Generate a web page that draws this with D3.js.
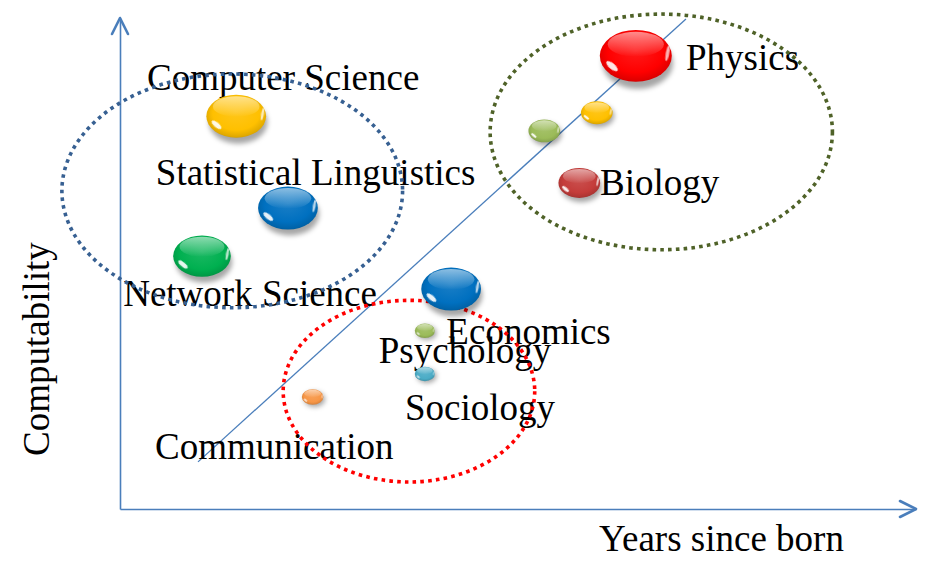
<!DOCTYPE html>
<html>
<head>
<meta charset="utf-8">
<script src="https://cdn.jsdelivr.net/npm/d3@7"></script>
<style>
  html, body { margin: 0; padding: 0; background: #ffffff; }
  svg { display: block; }
</style>
</head>
<body>
<svg id="chart" width="935" height="569"></svg>
<script>
// ---------------- data ----------------
const fields      = ["Physics", "Computer Science", "Statistical Linguistics", "Network Science", "Economics", "Psychology", "Sociology", "Communication", "Physics-2", "Physics-3", "Biology"];
const yearsSince  = [64.8, 14.6, 21.1, 10.3, 41.6, 38.3, 38.3, 24.2, 59.9, 53.3, 57.7];
const computab    = [92.3, 80.0, 61.3, 51.5, 44.8, 36.3, 27.5, 22.8, 80.7, 77.0, 66.4];
const bubbleSize  = [10, 8.3, 8.3, 8, 8.3, 2.8, 2.8, 3, 4.4, 4.4, 5.8];
const bubbleColor = ["#ff0000", "#ffc000", "#0070c0", "#00b050", "#0070c0", "#9bbb59", "#4bacc6", "#f79646", "#ffc000", "#9bbb59", "#c43c3a"];

// label text and anchor point (data units)
const labelText = ["Physics", "Computer Science", "Statistical Linguistics", "Network Science", "Economics", "Psychology", "Sociology", "Communication", "Biology"];
const labelX    = [71.1, 3.4, 4.5, 0.4, 41.0, 32.5, 35.8, 4.4, 60.3];
const labelY    = [89.4, 85.3, 66.0, 41.3, 33.6, 29.7, 18.1, 10.2, 64.0];

// trend line endpoints (data units)
const trendX = [9.8, 71.1];
const trendY = [9.6, 99.8];

// cluster ellipses (data units)
const clusterCX = [14.1, 68.0, 36.3];
const clusterCY = [64.8, 76.8, 24.0];
const clusterRX = [21.4, 21.5, 15.8];
const clusterRY = [23.8, 24.0, 18.5];
const clusterColor = ["#376092", "#4f6228", "#ff0000"];

const xTitle = "Years since born";
const yTitle = "Computability";

// ---------------- chart ----------------
const svg = d3.select("#chart");
const x = d3.scaleLinear().domain([0, 100]).range([120, 916]);
const y = d3.scaleLinear().domain([0, 100]).range([509, 18]);
const r = d3.scaleLinear().domain([0, 10]).range([0, 36]);
const axisColor = "#4a7ebb";
const font = "'Liberation Serif', 'Times New Roman', serif";
const fontSize = 37;

const defs = svg.append("defs");
const blur = defs.append("filter").attr("id", "shadowBlur")
  .attr("x", "-50%").attr("y", "-50%").attr("width", "200%").attr("height", "200%");
blur.append("feGaussianBlur").attr("stdDeviation", 2.5);
const glintBlur = defs.append("filter").attr("id", "glintBlur")
  .attr("x", "-50%").attr("y", "-50%").attr("width", "200%").attr("height", "200%");
glintBlur.append("feGaussianBlur").attr("stdDeviation", 0.6);

// top highlight gradient
const hl = defs.append("linearGradient").attr("id", "topHL")
  .attr("x1", 0).attr("y1", 0).attr("x2", 0).attr("y2", 1);
hl.append("stop").attr("offset", "0%").attr("stop-color", "#fff").attr("stop-opacity", 0.55);
hl.append("stop").attr("offset", "100%").attr("stop-color", "#fff").attr("stop-opacity", 0);

// axes
const gx = svg.append("g").attr("transform", `translate(0,${y(0)})`)
  .call(d3.axisBottom(x).tickValues([]).tickSizeOuter(0));
const gy = svg.append("g").attr("transform", `translate(${x(0)},0)`)
  .call(d3.axisLeft(y).tickValues([]).tickSizeOuter(0));
[gx, gy].forEach(g => g.select(".domain").attr("stroke", axisColor).attr("stroke-width", 1.6));

// arrowheads
const ah = 16, aw = 8;
svg.append("path")
  .attr("d", `M${x(0) - aw},${y(100) + ah} L${x(0)},${y(100)} L${x(0) + aw},${y(100) + ah}`)
  .attr("fill", "none").attr("stroke", axisColor).attr("stroke-width", 2.6)
  .attr("stroke-linecap", "round").attr("stroke-linejoin", "round");
svg.append("path")
  .attr("d", `M${x(100) - ah},${y(0) - aw} L${x(100)},${y(0)} L${x(100) - ah},${y(0) + aw}`)
  .attr("fill", "none").attr("stroke", axisColor).attr("stroke-width", 2.6)
  .attr("stroke-linecap", "round").attr("stroke-linejoin", "round");

// axis titles
svg.append("text").attr("x", 599).attr("y", 551)
  .attr("font-family", font).attr("font-size", fontSize).attr("fill", "#000").text(xTitle);
svg.append("text").attr("transform", "translate(49,456) rotate(-90)")
  .attr("font-family", font).attr("font-size", fontSize).attr("fill", "#000").text(yTitle);

// trend line
svg.append("line")
  .attr("x1", x(trendX[0])).attr("y1", y(trendY[0]))
  .attr("x2", x(trendX[1])).attr("y2", y(trendY[1]))
  .attr("stroke", axisColor).attr("stroke-width", 1.3);

// labels
svg.append("g").selectAll("text").data(labelText).join("text")
  .attr("x", (d, i) => x(labelX[i]))
  .attr("y", (d, i) => y(labelY[i]))
  .attr("font-family", font).attr("font-size", fontSize).attr("fill", "#000")
  .text(d => d);

// cluster ellipses
svg.append("g").selectAll("ellipse").data(clusterCX).join("ellipse")
  .attr("cx", (d, i) => x(clusterCX[i]))
  .attr("cy", (d, i) => y(clusterCY[i]))
  .attr("rx", (d, i) => x(clusterRX[i]) - x(0))
  .attr("ry", (d, i) => y(0) - y(clusterRY[i]))
  .attr("fill", "none")
  .attr("stroke", (d, i) => clusterColor[i])
  .attr("stroke-width", 3.6)
  .attr("stroke-dasharray", "3.6 4.2");

// bubble gradients
bubbleColor.forEach((c, i) => {
  const g = defs.append("radialGradient").attr("id", "bub" + i)
    .attr("cx", "50%").attr("cy", "45%").attr("r", "60%").attr("fx", "50%").attr("fy", "40%");
  g.append("stop").attr("offset", "0%").attr("stop-color", d3.interpolateRgb(c, "#fff")(0.1));
  g.append("stop").attr("offset", "65%").attr("stop-color", c);
  g.append("stop").attr("offset", "88%").attr("stop-color", d3.interpolateRgb(c, "#000")(0.12));
  g.append("stop").attr("offset", "100%").attr("stop-color", d3.interpolateRgb(c, "#000")(0.28));
});

// bubbles
const bub = svg.append("g").selectAll("g").data(fields).join("g")
  .attr("transform", (d, i) => `translate(${x(yearsSince[i])},${y(computab[i])})`);
bub.append("ellipse")
  .attr("cx", 2).attr("cy", (d, i) => r(bubbleSize[i]) * 0.2)
  .attr("rx", (d, i) => r(bubbleSize[i]) * 0.98)
  .attr("ry", (d, i) => r(bubbleSize[i]) * 0.72)
  .attr("fill", "rgba(0,0,0,0.35)").attr("filter", "url(#shadowBlur)");
bub.append("ellipse")
  .attr("rx", (d, i) => r(bubbleSize[i]))
  .attr("ry", (d, i) => r(bubbleSize[i]) * 0.72)
  .attr("fill", (d, i) => `url(#bub${i})`);
bub.append("ellipse")
  .attr("cx", 0)
  .attr("cy", (d, i) => -r(bubbleSize[i]) * 0.72 * 0.45)
  .attr("rx", (d, i) => r(bubbleSize[i]) * 0.78)
  .attr("ry", (d, i) => r(bubbleSize[i]) * 0.72 * 0.48)
  .attr("fill", "url(#topHL)");
bub.append("ellipse")
  .attr("transform", (d, i) => {
    const rr = r(bubbleSize[i]);
    return `translate(${-rr * 0.66},${rr * 0.72 * 0.4}) rotate(40)`;
  })
  .attr("rx", (d, i) => r(bubbleSize[i]) * 0.2)
  .attr("ry", (d, i) => r(bubbleSize[i]) * 0.08)
  .attr("fill", "#fff").attr("fill-opacity", 0.9).attr("filter", "url(#glintBlur)");
bub.append("ellipse")
  .attr("transform", (d, i) => {
    const rr = r(bubbleSize[i]);
    return `translate(${rr * 0.88},${-rr * 0.72 * 0.1}) rotate(-80)`;
  })
  .attr("rx", (d, i) => r(bubbleSize[i]) * 0.22)
  .attr("ry", (d, i) => r(bubbleSize[i]) * 0.05)
  .attr("fill", "#fff").attr("fill-opacity", 0.7).attr("filter", "url(#glintBlur)");
</script>
</body>
</html>
